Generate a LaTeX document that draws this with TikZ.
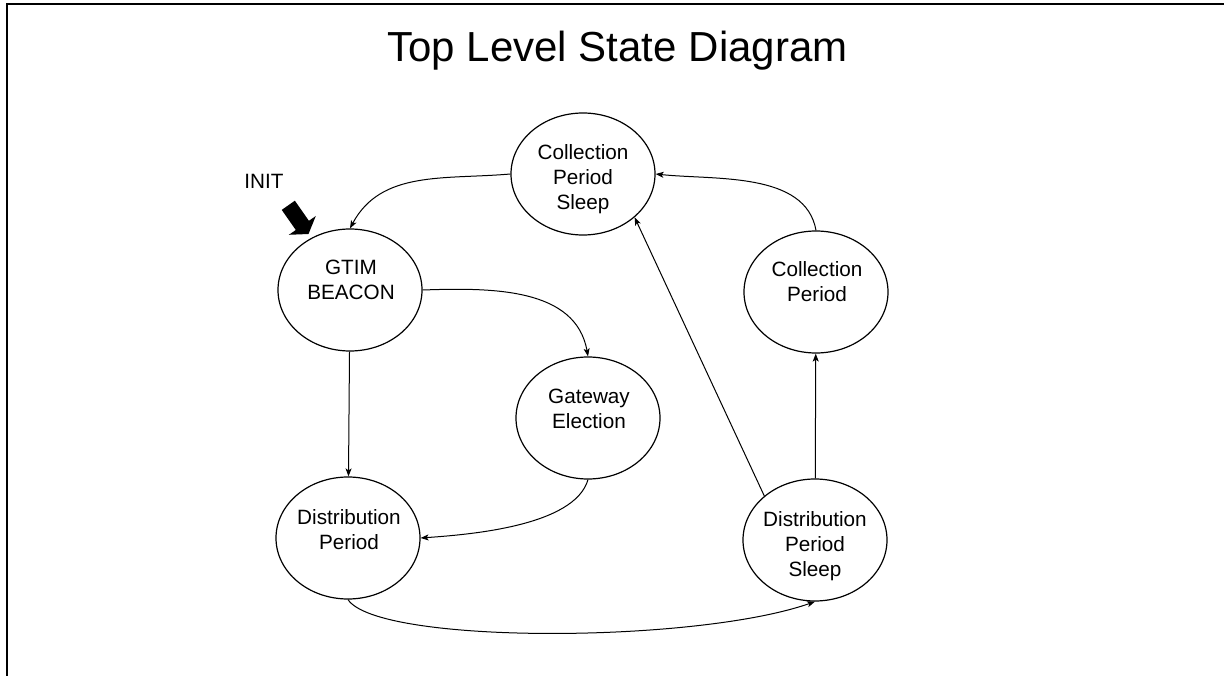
\documentclass[tikz,border=0pt]{standalone}
\usepackage{fontspec}
\setmainfont{Liberation Sans}
\usetikzlibrary{shapes.geometric,arrows.meta}
\begin{document}
\begin{tikzpicture}[x=1pt,y=1pt,
  state/.style={ellipse, draw, line width=1.2pt, minimum width=144pt,
    minimum height=122pt, inner sep=0pt},
  statetext/.style={align=center, inner sep=0pt,
    font=\fontsize{20.7}{25}\selectfont},
  trans/.style={draw, line width=1pt,
    -{Stealth[length=8pt,width=6pt,inset=2pt]}},
]
\useasboundingbox (0,0) rectangle (1224,-676);
\clip (0,0) rectangle (1224,-676);
\fill[white] (0,0) rectangle (1224,-676);

% page frame (only top and left edges fall inside the page)
\draw[line width=2pt] (7,-690) -- (7,-4.5) -- (1240,-4.5);

% title
\node[font=\fontsize{42}{50}\selectfont, anchor=base, inner sep=0pt]
  (title) at (617.5,-61.7) {Top Level State Diagram};

% states
\node[state] (cps)  at (583,-174) {};
\node[state] (gtim) at (350,-290) {};
\node[state] (cp)   at (816,-292) {};
\node[state] (ge)   at (588,-418) {};
\node[state] (dp)   at (348,-538) {};
\node[state] (dps)  at (815,-540) {};

% state names
\node[statetext] (cps-t)  at (583,-179.3) {Collection\\Period\\Sleep};
\node[statetext] (gtim-t) at (351,-280)   {GTIM\\BEACON};
\node[statetext] (cp-t)   at (817,-281.5) {Collection\\Period};
\node[statetext] (ge-t)   at (589,-408.5) {Gateway\\Election};
\node[statetext] (dp-t)   at (349,-529.5) {Distribution\\Period};
\node[statetext] (dps-t)  at (815,-546.3) {Distribution\\Period\\Sleep};

% initial state marker
\node[statetext, anchor=base] (init) at (264,-188.3) {INIT};
\fill (281.75,-209.9) -- (294.85,-200.7) -- (308.9,-220.8) -- (315.8,-216)
  -- (308.5,-234) -- (288.9,-234.8) -- (295.8,-230) -- cycle;

% transitions
\draw[trans] (cps.west) to[out=185,in=62] (gtim.north);
\draw[trans] (gtim.east) to[out=2,in=100] (ge.north);
\draw[trans] (gtim) -- (dp);
\draw[trans] (ge.south) to[out=-106,in=4,looseness=0.7] (dp.east);
\draw[trans] (dp.south) .. controls +(30,-45) and +(-120,-42) .. (dps.south);
\draw[trans] (dps.139) -- (cps.320);
\draw[trans] (dps) -- (cp);
\draw[trans] (cp.north) to[out=100,in=-6,looseness=0.9] (cps.east);
\end{tikzpicture}
\end{document}
